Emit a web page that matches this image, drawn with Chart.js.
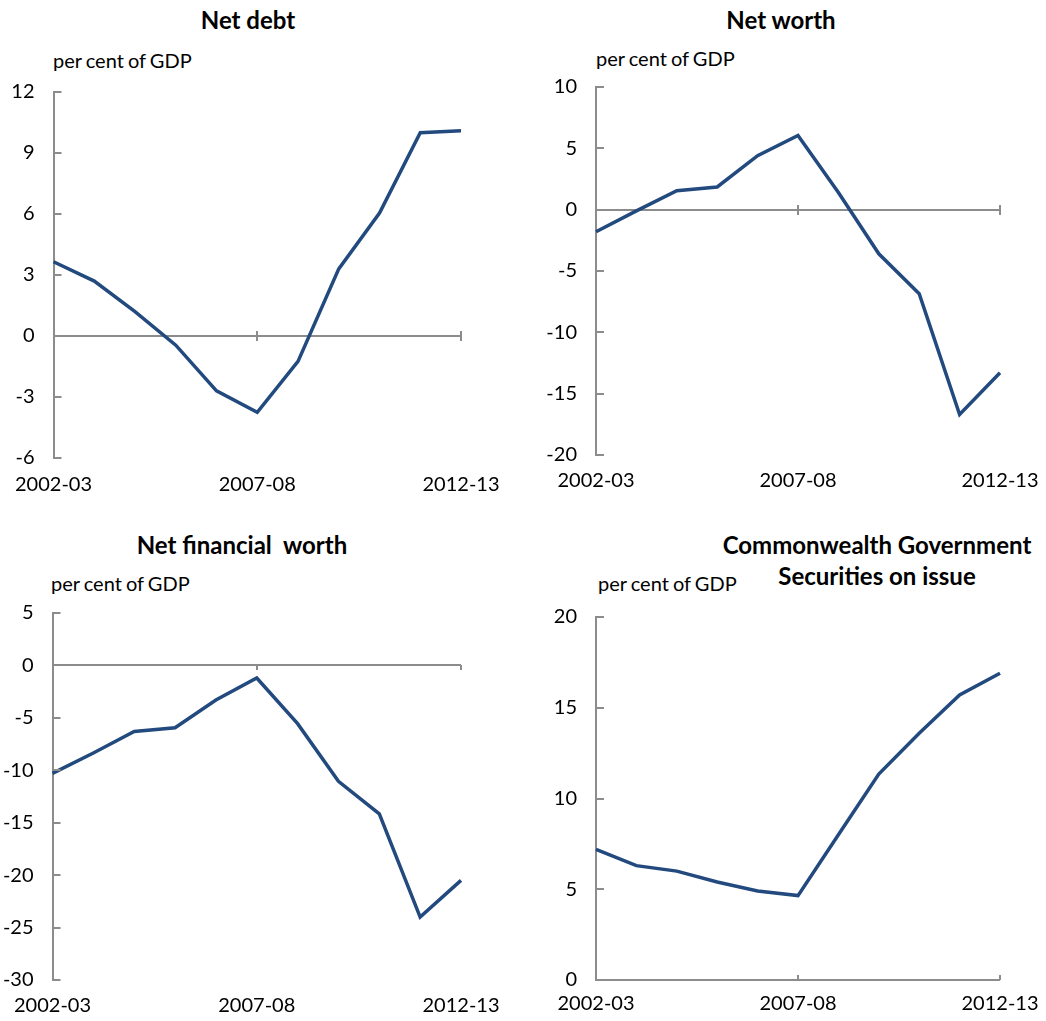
<!DOCTYPE html>
<html>
<head>
<meta charset="utf-8">
<script src="https://cdn.jsdelivr.net/npm/chart.js@4"></script>
<style>
  body { margin: 0; background: #ffffff; overflow: hidden; }
  #page { position: relative; width: 1046px; height: 1021px; overflow: hidden; font-family: Lato, "Open Sans", sans-serif; color: #000; }
  .box { position: absolute; }
  .title { position: absolute; font-weight: bold; font-size: 24px; text-align: center; white-space: nowrap; line-height: 31px; }
  .unit { position: absolute; font-size: 20px; white-space: nowrap; word-spacing: -1px; }
</style>
</head>
<body>
<div id="page">
  <div class="title" style="left:148px; top:4px; width:200px;">Net debt</div>
  <div class="title" style="left:681px; top:4px; width:200px;">Net worth</div>
  <div class="title" style="left:92px; top:529px; width:300px;">Net financial&nbsp; worth</div>
  <div class="title" style="left:697px; top:529px; width:360px;">Commonwealth Government<br>Securities on issue</div>

  <div class="unit" style="left:53px; top:48px;">per cent of GDP</div>
  <div class="unit" style="left:596px; top:46px;">per cent of GDP</div>
  <div class="unit" style="left:51px; top:571px;">per cent of GDP</div>
  <div class="unit" style="left:598px; top:571px;">per cent of GDP</div>

  <div class="box" style="left:0px; top:61px; width:520px; height:437px;"><canvas id="netDebtChart"></canvas></div>
  <div class="box" style="left:520px; top:56px; width:540px; height:439px;"><canvas id="netWorthChart"></canvas></div>
  <div class="box" style="left:0px; top:582px; width:520px; height:438px;"><canvas id="netFinancialChart"></canvas></div>
  <div class="box" style="left:520px; top:586px; width:540px; height:434px;"><canvas id="cgsChart"></canvas></div>
</div>
<script>
const years = ["2002-03", "2003-04", "2004-05", "2005-06", "2006-07", "2007-08",
  "2008-09", "2009-10", "2010-11", "2011-12", "2012-13"];

const netDebt = [3.65, 2.7, 1.2, -0.45, -2.7, -3.75, -1.25, 3.3, 6.05, 10.0, 10.1];
const netWorth = [-1.8, -0.1, 1.55, 1.85, 4.4, 6.05, 1.4, -3.6, -6.85, -16.7, -13.3];
const netFinancialWorth = [-10.3, -8.35, -6.3, -5.95, -3.3, -1.2, -5.55, -11.05, -14.15, -24.0, -20.5];
const cgsOnIssue = [7.2, 6.3, 6.0, 5.4, 4.9, 4.65, 8.0, 11.35, 13.6, 15.7, 16.9];

const labelEvery = 5;
const lineColor = "#234a7e";
const axisColor = "#8c8c8c";

// Excel-style tick marks: y ticks point into the plot, x ticks sit on the zero line
const excelTicks = {
  id: "excelTicks",
  afterDraw(chart, args, opts) {
    const { ctx, chartArea, scales: { x, y } } = chart;
    ctx.save();
    ctx.strokeStyle = axisColor;
    ctx.lineWidth = 2;
    ctx.beginPath();
    y.ticks.forEach(tick => {
      const py = Math.round(y.getPixelForValue(tick.value));
      ctx.moveTo(chartArea.left, py);
      ctx.lineTo(chartArea.left + 8, py);
    });
    const zero = Math.round(y.getPixelForValue(0));
    const up = opts.mode === "out" ? 0 : 5;
    const down = opts.mode === "in" ? 0 : 5;
    years.forEach((year, i) => {
      if (i === 0 || i % labelEvery !== 0) return;
      const px = Math.round(x.getPixelForValue(i));
      ctx.moveTo(px, zero - up);
      ctx.lineTo(px, zero + down);
    });
    ctx.stroke();
    ctx.restore();
  }
};

function buildPanel(id, values, range, axisWidth, rightPad, xPad, tickMode) {
  new Chart(document.getElementById(id), {
    type: "line",
    data: {
      labels: years,
      datasets: [{
        data: values,
        borderColor: lineColor,
        borderWidth: 3.5,
        pointRadius: 0,
        tension: 0
      }]
    },
    options: {
      responsive: true,
      maintainAspectRatio: false,
      animation: false,
      layout: { padding: { top: 16, left: 0, right: rightPad, bottom: 0 } },
      plugins: {
        legend: { display: false },
        tooltip: { enabled: false },
        excelTicks: { mode: tickMode }
      },
      scales: {
        x: {
          offset: false,
          border: { display: false },
          grid: { display: false, drawTicks: false },
          afterFit: scale => { scale.height = 40; },
          ticks: {
            autoSkip: false,
            maxRotation: 0,
            padding: xPad,
            color: "#000",
            font: { family: "Lato", size: 20 },
            callback: (value, i) => i % labelEvery === 0 ? years[i] : ""
          }
        },
        y: {
          min: range.min,
          max: range.max,
          border: { color: axisColor, width: 2 },
          grid: {
            drawTicks: false,
            lineWidth: 2,
            color: ctx => ctx.tick && ctx.tick.value === 0 ? axisColor : "rgba(0,0,0,0)"
          },
          afterFit: scale => { scale.width = axisWidth; },
          ticks: {
            stepSize: range.step,
            padding: 19,
            color: "#000",
            font: { family: "Lato", size: 20 }
          }
        }
      }
    },
    plugins: [excelTicks]
  });
}

buildPanel("netDebtChart", netDebt, { min: -6, max: 12, step: 3 }, 52, 59, 15, "cross");
buildPanel("netWorthChart", netWorth, { min: -20, max: 10, step: 5 }, 76, 60, 14, "cross");
buildPanel("netFinancialChart", netFinancialWorth, { min: -30, max: 5, step: 5 }, 52, 59, 14, "out");
buildPanel("cgsChart", cgsOnIssue, { min: 0, max: 20, step: 5 }, 76, 60, 12, "in");
</script>
</body>
</html>
